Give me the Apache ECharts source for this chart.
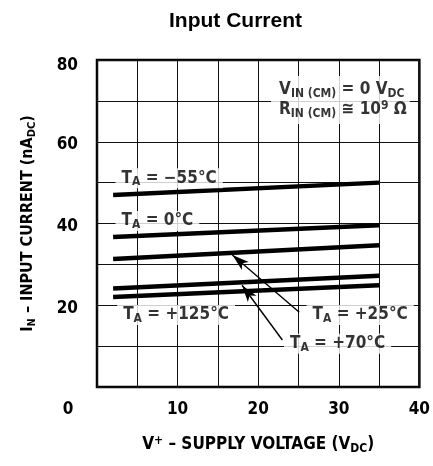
<!DOCTYPE html>
<html><head><meta charset="utf-8">
<script src="https://cdn.jsdelivr.net/npm/echarts@6/dist/echarts.min.js"></script>
<style>html,body{margin:0;padding:0;background:#fff}#c{width:433px;height:466px}</style>
</head><body><div id="c"></div>
<script>
// ---- data ----
const supplyVoltage = [2, 35];
const current_m55 = [47.0, 50.0];
const current_0 = [36.7, 39.6];
const current_25 = [31.3, 34.7];
const current_70 = [24.1, 27.2];
const current_125 = [22.0, 24.9];
const seriesLabels = ['−55°C', '0°C', '+25°C', '+70°C', '+125°C'];
const xTickLabels = [0, 10, 20, 30, 40];
const yTickLabels = [20, 40, 60, 80];

// ---- annotation placement (data coords) ----
const labelAnchors = [[2.3, 51.1], [2.3, 40.6], [26.0, 17.6], [23.2, 10.6], [2.5, 17.6]];
const arrows = [
  [[25.1, 18.3], [16.8, 32.3]],
  [[23.0, 11.5], [18.0, 24.9]]
];
const condAnchor = [21.6, 70.2];

const COND = '"Liberation Sans Narrow","DejaVu Sans Condensed","Arial Narrow","Liberation Sans",sans-serif';
const SANS = '"Liberation Sans",Arial,sans-serif';

const chart = echarts.init(document.getElementById('c'), null, {renderer: 'canvas'});

function pairs(ys) { return supplyVoltage.map((x, i) => [x, ys[i]]); }
const curves = [current_m55, current_0, current_25, current_70, current_125];

const richT = {
  t: {fontFamily: COND, fontWeight: 'bold', fontSize: 17, color: '#000', lineHeight: 20},
  s: {fontFamily: COND, fontWeight: 'bold', fontSize: 12, color: '#000', lineHeight: 10, verticalAlign: 'bottom'},
  p: {fontFamily: COND, fontWeight: 'bold', fontSize: 12, color: '#000', lineHeight: 10, verticalAlign: 'top'}
};

const series = curves.map((ys, i) => ({
  type: 'line', name: seriesLabels[i], data: pairs(ys), symbol: 'none',
  lineStyle: {color: '#000', width: 4.5}, z: 3
}));

// arrows
series.push({
  type: 'line', data: [], symbol: 'none',
  markLine: {
    silent: true, symbol: ['none', 'arrow'], symbolSize: [8, 17],
    label: {show: false},
    lineStyle: {color: '#000', width: 1.4, type: 'solid'},
    data: arrows.map(a => [{coord: a[0]}, {coord: a[1]}])
  }
});

// temperature labels
series.push({
  type: 'scatter', symbolSize: 0, z: 5,
  data: labelAnchors.map((p, i) => ({
    value: p,
    label: {
      show: true, position: 'right', distance: 0, color: '#000',
      formatter: '{t|T}{s|A}{t| = ' + seriesLabels[i] + '}',
      backgroundColor: '#fff', padding: [0, 6, 0, 6], rich: richT
    }
  }))
});

// conditions box
series.push({
  type: 'scatter', symbolSize: 0, z: 5,
  data: [{
    value: condAnchor,
    label: {
      show: true, position: 'right', distance: 0, color: '#000',
      formatter: '{t|V}{s|IN (CM)}{t| = 0 V}{s|DC}\n{t|R}{s|IN (CM)}{t| ≅ 10}{p|9}{t| Ω}',
      backgroundColor: '#fff', padding: [4, 3, 4, 8], rich: richT
    }
  }]
});

chart.setOption({
  animation: false,
  backgroundColor: '#fff',
  title: {
    text: 'Input Current', left: 164, top: 6,
    textStyle: {fontFamily: SANS, fontWeight: 'bold', fontSize: 21, color: '#000'}
  },
  grid: {left: 97, right: 13, top: 60, bottom: 79, show: true, borderColor: '#000', borderWidth: 2.5, backgroundColor: 'transparent'},
  xAxis: {
    type: 'value', min: 0, max: 40, interval: 5,
    axisLine: {show: false}, axisTick: {show: false},
    splitLine: {show: true, lineStyle: {color: '#111', width: 1}},
    axisLabel: {
      margin: 14,
      formatter: v => xTickLabels.includes(v) ? (v === 0 ? '{z|0}' : String(v)) : '',
      fontFamily: COND, fontWeight: 'bold', fontSize: 17, color: '#000',
      rich: {z: {fontFamily: COND, fontWeight: 'bold', fontSize: 17, color: '#000', padding: [0, 58, 0, 0]}}
    },
    name: '{m|V}{p|+}{m| – SUPPLY VOLTAGE (V}{s|DC}{m|)}',
    nameLocation: 'middle', nameGap: 48,
    nameTextStyle: {
      rich: {
        m: {fontFamily: COND, fontWeight: 'bold', fontSize: 17, color: '#000', lineHeight: 20},
        s: {fontFamily: COND, fontWeight: 'bold', fontSize: 12, color: '#000', lineHeight: 10, verticalAlign: 'bottom'},
        p: {fontFamily: COND, fontWeight: 'bold', fontSize: 12, color: '#000', lineHeight: 10, verticalAlign: 'top'}
      }
    }
  },
  yAxis: {
    type: 'value', min: 0, max: 80, interval: 10,
    axisLine: {show: false}, axisTick: {show: false},
    splitLine: {show: true, lineStyle: {color: '#111', width: 1}},
    axisLabel: {
      margin: 19,
      formatter: v => yTickLabels.includes(v) ? (v === 80 ? '{e|80}' : '{n|' + v + '}') : '',
      rich: {
        n: {fontFamily: COND, fontWeight: 'bold', fontSize: 17, color: '#000', padding: [6, 0, 0, 0]},
        e: {fontFamily: COND, fontWeight: 'bold', fontSize: 17, color: '#000', padding: [12, 0, 0, 0]}
      }
    },
    name: '{m|I}{s|N}{m| – INPUT CURRENT (nA}{s|DC}{m|)}',
    nameLocation: 'middle', nameGap: 59, nameRotate: 90,
    nameTextStyle: {
      rich: {
        m: {fontFamily: COND, fontWeight: 'bold', fontSize: 16, color: '#000', lineHeight: 20},
        s: {fontFamily: COND, fontWeight: 'bold', fontSize: 11, color: '#000', lineHeight: 10, verticalAlign: 'bottom'}
      }
    }
  },
  series: series
});
</script></body></html>
